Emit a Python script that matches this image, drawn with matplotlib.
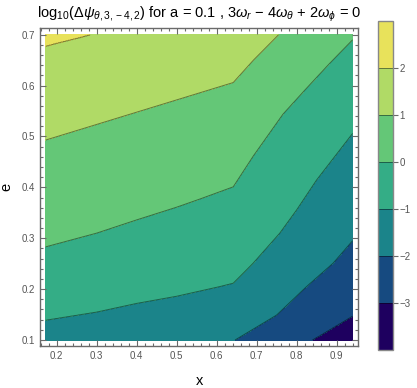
import numpy as np
import matplotlib
matplotlib.use("Agg")
import matplotlib.pyplot as plt
from matplotlib.ticker import MultipleLocator, FormatStrFormatter

plt.rcParams['font.family'] = ['Liberation Sans', 'DejaVu Sans']
plt.rcParams['mathtext.fontset'] = 'custom'
plt.rcParams['mathtext.rm'] = 'Liberation Sans'
plt.rcParams['mathtext.it'] = 'Liberation Sans:italic'
plt.rcParams['mathtext.bf'] = 'Liberation Sans:bold'
plt.rcParams['contour.negative_linestyle'] = 'solid'

# ---- data: contour boundary lines (x, e) ----
levels = [-4, -3, -2, -1, 0, 1, 2, 3]
line_levels = [-3, -2, -1, 0, 1, 2]

b_m3_x = [0.1725, 0.8415, 0.94]
b_m3_e = [-0.60, 0.10, 0.146]

b_m2_x = [0.1725, 0.646, 0.75, 0.825, 0.8915, 0.94]
b_m2_e = [-0.25, 0.10, 0.149, 0.205, 0.251, 0.295]

b_m1_x = [0.1725, 0.30, 0.40, 0.50, 0.6083, 0.6415, 0.6915, 0.758, 0.80, 0.85, 0.94]
b_m1_e = [0.139, 0.155, 0.172, 0.186, 0.205, 0.2115, 0.251, 0.31, 0.3555, 0.4145, 0.506]

b_0_x = [0.1725, 0.30, 0.40, 0.50, 0.558, 0.6415, 0.692, 0.766, 0.825, 0.883, 0.94]
b_0_e = [0.283, 0.31, 0.336, 0.361, 0.377, 0.401, 0.462, 0.544, 0.595, 0.644, 0.69]

b_1_x = [0.1725, 0.6415, 0.692, 0.755, 0.94]
b_1_e = [0.493, 0.606, 0.650, 0.70, 0.85]

b_2_x = [0.1725, 0.283, 0.94]
b_2_e = [0.678, 0.70, 0.95]

boundaries = [(b_m3_x, b_m3_e), (b_m2_x, b_m2_e), (b_m1_x, b_m1_e),
              (b_0_x, b_0_e), (b_1_x, b_1_e), (b_2_x, b_2_e)]

x_min, x_max = 0.1725, 0.94
e_min, e_max = 0.10, 0.70

colors = ['#1e005f', '#164a80', '#1b848a', '#34ad86', '#64c777', '#b0da66', '#e8e25b']

# ---- build field from the boundaries ----
xs = np.linspace(x_min, x_max, 500)
es = np.linspace(e_min, e_max, 500)
X, E = np.meshgrid(xs, es)
Z = np.zeros_like(X)
for j, xv in enumerate(xs):
    eb = [np.interp(xv, bx, be) for bx, be in boundaries]
    Z[:, j] = np.interp(es, eb, line_levels, left=-3.5, right=2.5)

# ---- figure ----
fig = plt.figure(figsize=(4.17, 3.88), dpi=100)
ax = fig.add_axes([0.0966, 0.109, 0.7624, 0.818])

cf = ax.contourf(X, E, Z, levels=levels, colors=colors)
cl = ax.contour(X, E, Z, levels=line_levels, colors=[(0, 0, 0, 0.45)],
                linewidths=0.7, linestyles='solid')

ax.set_xlim(0.159, 0.954)
ax.set_ylim(0.0888, 0.7126)

gray = '#6a6a6a'
for s in ax.spines.values():
    s.set_color(gray)
    s.set_linewidth(1.0)

ax.xaxis.set_major_locator(MultipleLocator(0.1))
ax.xaxis.set_minor_locator(MultipleLocator(0.02))
ax.yaxis.set_major_locator(MultipleLocator(0.1))
ax.yaxis.set_minor_locator(MultipleLocator(0.02))
ax.tick_params(which='both', direction='in', top=True, right=True, color=gray,
               labelcolor='#555555', labelsize=7, width=0.8)
ax.tick_params(which='major', length=4)
ax.tick_params(which='minor', length=2.3)
ax.xaxis.set_major_formatter(FormatStrFormatter('%.1f'))
ax.yaxis.set_major_formatter(FormatStrFormatter('%.1f'))

ax.set_xlabel('x', fontsize=10.5, labelpad=10)
ax.set_ylabel('e', fontsize=10.5, labelpad=6)

ax.set_title(r'$\mathrm{log}_{10}(\Delta\psi_{\theta,3,-4,2})$ for a = 0.1 , '
             r'3$\omega_r$ − 4$\omega_\theta$ + 2$\omega_\phi$ = 0',
             fontsize=10.5, pad=8)

cax = fig.add_axes([0.907, 0.098, 0.0345, 0.848])
cb = fig.colorbar(cf, cax=cax)
cb.add_lines(cl)
cb.set_ticks([-3, -2, -1, 0, 1, 2])
cb.outline.set_edgecolor('#888888')
cb.outline.set_linewidth(1.0)
cax.tick_params(direction='out', length=3.5, color=gray, labelcolor='#555555',
                labelsize=7, width=0.8, pad=1.5)

fig.savefig('out.png', dpi=100)
